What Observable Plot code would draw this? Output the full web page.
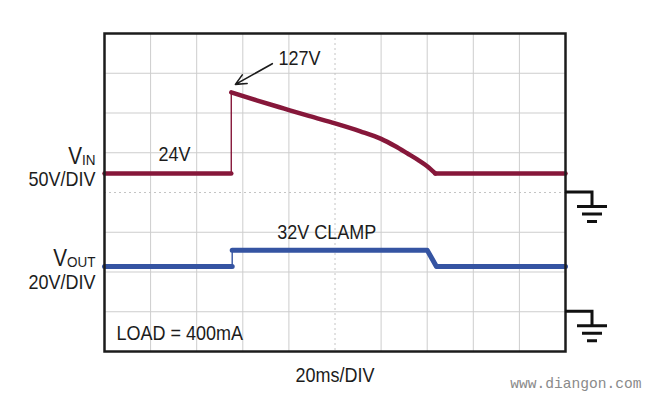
<!DOCTYPE html>
<html><head><meta charset="utf-8">
<script src="https://cdn.jsdelivr.net/npm/d3@7"></script>
<script src="https://cdn.jsdelivr.net/npm/@observablehq/plot@0.6"></script>
<style>
body{margin:0;background:#fff;}
#chart svg{display:block;}
</style></head><body><div id="chart"></div>
<script>
// ---- data ----
// time axis: 20 ms per division, 10 divisions
const timeGrid = [20, 40, 60, 80, 120, 140, 160, 180];
const timeCenter = [100];
// vertical: 8 divisions
const divGrid = [1, 2, 3, 5, 6, 7];
const divCenter = [4];
// VIN trace (volts), 50 V/div, ground at division 4
const vinTime    = [0, 55, 55, 66, 78, 89, 100, 111, 120, 126, 131.5, 136, 140, 143.5, 200];
const vinVolts   = [24, 24, 126, 116, 105.5, 96, 87, 77, 67.5, 58.5, 49, 41, 33, 24, 24];
const vinSegment = ["low","low","high","high","high","high","high","high","high","high","high","high","high","high","high"];
// VOUT trace (volts), 20 V/div, ground at division 1
const voutTime    = [0, 55.4, 55.4, 140, 144, 200];
const voutVolts   = [22.8, 22.8, 31, 31, 22.8, 22.8];
const voutSegment = ["low","low","high","high","high","high"];
const vinScale = 50, vinGround = 4;
const voutScale = 20, voutGround = 1;

const vinRows = vinTime.map((t, i) => ({t, div: vinGround + vinVolts[i] / vinScale, seg: vinSegment[i]}));
const voutRows = voutTime.map((t, i) => ({t, div: voutGround + voutVolts[i] / voutScale, seg: voutSegment[i]}));
const isStep = (rows) => rows.filter((d, i) => (i > 0 && rows[i - 1].t === d.t) || (i < rows.length - 1 && rows[i + 1].t === d.t));
const vinStep = isStep(vinRows);
const voutStep = isStep(voutRows);
const vinDecay = vinRows.filter(d => d.seg === "high" && d.t <= vinTime[13]);
const vinFlat = vinRows.filter(d => d.seg === "low" || d.t >= vinTime[13]);

const vinColor = "#86173a", voutColor = "#3554a2", ink = "#1c1c1c";

const innerLabels = [
  {t: 75.5, div: 7.22, text: "127V"},
  {t: 23.4, div: 4.79, text: "24V"},
  {t: 74.9, div: 2.835, text: "32V CLAMP"},
  {t: 5.2, div: 0.28, text: "LOAD = 400mA"}
];
const scaleLabels = [
  {t: 0, div: 4.16, text: "50V/DIV"},
  {t: 0, div: 1.57, text: "20V/DIV"}
];
const chanLabels = [
  {t: 0, div: 4.71, main: "V", sub: "IN"},
  {t: 0, div: 2.15, main: "V", sub: "OUT"}
];
const peak = vinRows[2];
const arrowAnn = [{t1: 72.8, d1: 7.24, t2: peak.t + 1.8, d2: peak.div + 0.2}];

const chart = Plot.plot({
  width: 650, height: 398,
  marginLeft: 104, marginRight: 85, marginTop: 33, marginBottom: 47,
  x: {domain: [0, 200], axis: null},
  y: {domain: [0, 8], axis: null},
  style: {fontFamily: "'Liberation Sans', Arial, sans-serif", fontSize: "20px", color: ink, background: "white"},
  marks: [
    Plot.ruleX(timeGrid, {stroke: "#cdcdcd", strokeWidth: 1}),
    Plot.ruleY(divGrid, {stroke: "#cdcdcd", strokeWidth: 1}),
    Plot.ruleX(timeCenter, {stroke: "#c4c4c4", strokeWidth: 1, strokeDasharray: "2,3"}),
    Plot.ruleY(divCenter, {stroke: "#c4c4c4", strokeWidth: 1, strokeDasharray: "2,3"}),
    Plot.line(vinStep, {x: "t", y: "div", stroke: vinColor, strokeWidth: 1.4}),
    Plot.line(voutStep, {x: "t", y: "div", stroke: voutColor, strokeWidth: 1.4}),
    Plot.line(vinFlat, {x: "t", y: "div", z: "seg", stroke: vinColor, strokeWidth: 4.5}),
    Plot.line(vinDecay, {x: "t", y: "div", stroke: vinColor, strokeWidth: 4.5, curve: "monotone-x", strokeLinejoin: "round"}),
    Plot.line(voutRows, {x: "t", y: "div", z: "seg", stroke: voutColor, strokeWidth: 5, strokeLinejoin: "round"}),
    Plot.frame({stroke: ink, strokeWidth: 2.5}),
    Plot.arrow(arrowAnn, {x1: "t1", y1: "d1", x2: "t2", y2: "d2", stroke: ink, strokeWidth: 1.6, headLength: 11, headAngle: 50}),
    Plot.text(innerLabels, {x: "t", y: "div", text: "text", textAnchor: "start", lineAnchor: "bottom", fill: ink}),
    Plot.text(scaleLabels, {x: "t", y: "div", text: "text", textAnchor: "end", lineAnchor: "bottom", dx: -9, fill: ink}),
    Plot.text(chanLabels, {x: "t", y: "div", text: d => d.main + d.sub, textAnchor: "end", lineAnchor: "bottom", dx: -9, fill: ink, fontSize: 23, className: "chanlabel"}),
    Plot.text([{t: 100, div: -0.77, text: "20ms/DIV"}], {x: "t", y: "div", text: "text", textAnchor: "middle", lineAnchor: "bottom", fill: ink}),
    Plot.text([{t: 176, div: -0.93, text: "www.diangon.com"}], {x: "t", y: "div", text: "text", textAnchor: "start", lineAnchor: "bottom", fill: "#8a8a8a", fontSize: 14.6, fontFamily: "'Liberation Mono', monospace", className: "nocond"})
  ]
});

// channel labels with subscripts
d3.select(chart).selectAll("g.chanlabel text").each(function(_, i) {
  const lab = chanLabels[i];
  const el = d3.select(this);
  el.text(null);
  el.append("tspan").text(lab.main);
  el.append("tspan").attr("font-size", 15).attr("dy", 1).text(lab.sub);
});

// condensed lettering
chart.querySelectorAll("text").forEach(t => {
  if (t.closest(".nocond")) return;
  const tr = t.getAttribute("transform") || "";
  t.setAttribute("transform", tr + " scale(0.9,1)");
});

// ground symbols at right edge
const xs = chart.scale("x"), ys = chart.scale("y");
const x0 = xs.apply(200);
const gnd = d3.select(chart).append("g").attr("stroke", "#111").attr("stroke-width", 3).attr("fill", "none");
[vinGround, voutGround].forEach(g => {
  const gy = ys.apply(g);
  const cx = x0 + 27;
  gnd.append("path").attr("d", `M${x0},${gy}H${cx}V${gy + 14.5}`);
  [[15, 14.5], [10, 22], [5, 29.5]].forEach(([hw, off]) => {
    gnd.append("path").attr("d", `M${cx - hw},${gy + off}H${cx + hw}`);
  });
});

document.getElementById("chart").append(chart);
</script></body></html>
